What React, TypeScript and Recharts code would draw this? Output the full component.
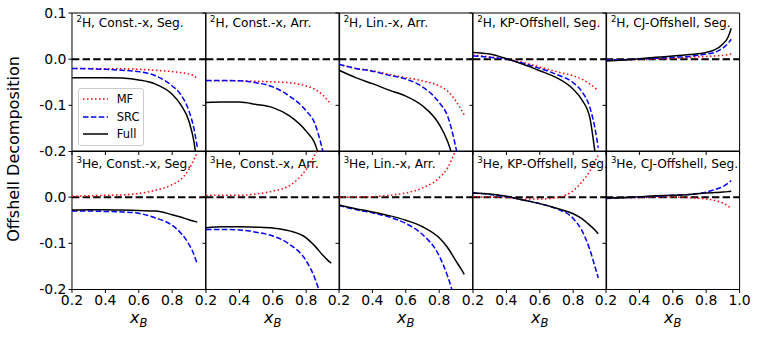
import { Legend, Line, LineChart, ReferenceArea, ReferenceLine, XAxis, YAxis } from 'recharts';

const FONT = '"DejaVu Sans", sans-serif';

// x_B grid shared by every curve
const X_B = [0.2, 0.3, 0.4, 0.5, 0.6, 0.7, 0.8, 0.85, 0.9, 0.93, 0.95];

const X_TICKS = [0.2, 0.4, 0.6, 0.8];
const X_TICKS_LAST = [0.2, 0.4, 0.6, 0.8, 1.0];
const Y_TICKS_TOP = [0.1, 0, -0.1, -0.2];
const Y_TICKS_BOTTOM = [0, -0.1, -0.2];
const SERIES_ORDER = ['MF', 'SRC', 'Full'];

// 2H panels
const H2_CONST_SEG_MF = [-0.02, -0.02, -0.021, -0.021, -0.022, -0.024, -0.027, -0.029, -0.032, -0.036, -0.042];
const H2_CONST_SEG_SRC = [-0.02, -0.021, -0.022, -0.024, -0.027, -0.036, -0.058, -0.076, -0.112, -0.15, -0.19];
const H2_CONST_SEG_FULL = [-0.04, -0.04, -0.04, -0.041, -0.045, -0.054, -0.076, -0.098, -0.134, -0.178, -0.23];

const H2_CONST_ARR_MF = [-0.047, -0.047, -0.047, -0.048, -0.049, -0.051, -0.058, -0.065, -0.078, -0.09, -0.098];
const H2_CONST_ARR_SRC = [-0.046, -0.046, -0.047, -0.051, -0.06, -0.08, -0.112, -0.138, -0.2, -0.25, -0.28];
const H2_CONST_ARR_FULL = [-0.094, -0.093, -0.093, -0.098, -0.105, -0.123, -0.156, -0.181, -0.24, -0.28, -0.32];

const H2_LIN_ARR_MF = [-0.011, -0.02, -0.025, -0.033, -0.04, -0.047, -0.058, -0.069, -0.091, -0.108, -0.121];
const H2_LIN_ARR_SRC = [-0.011, -0.02, -0.026, -0.035, -0.043, -0.06, -0.094, -0.123, -0.192, -0.25, -0.3];
const H2_LIN_ARR_FULL = [-0.024, -0.04, -0.053, -0.067, -0.08, -0.101, -0.141, -0.178, -0.24, -0.3, -0.34];

const H2_KP_SEG_MF = [0.009, 0.005, 0.0, -0.007, -0.017, -0.027, -0.036, -0.043, -0.054, -0.062, -0.069];
const H2_KP_SEG_SRC = [0.007, 0.004, 0.0, -0.009, -0.02, -0.033, -0.051, -0.069, -0.105, -0.149, -0.192];
const H2_KP_SEG_FULL = [0.0145, 0.011, 0.001, -0.011, -0.025, -0.04, -0.065, -0.087, -0.127, -0.2, -0.25];

const H2_CJ_SEG_MF = [-0.002, -0.002, -0.001, 0.0, 0.002, 0.004, 0.006, 0.007, 0.008, 0.01, 0.011];
const H2_CJ_SEG_SRC = [-0.002, -0.001, 0.0, 0.002, 0.004, 0.006, 0.011, 0.0145, 0.024, 0.034, 0.043];
const H2_CJ_SEG_FULL = [-0.004, -0.002, 0.001, 0.004, 0.007, 0.01, 0.0145, 0.02, 0.033, 0.047, 0.067];

// 3He panels
const HE3_CONST_SEG_MF = [0.002, 0.003, 0.004, 0.005, 0.008, 0.015, 0.027, 0.038, 0.06, 0.081, 0.096];
const HE3_CONST_SEG_SRC = [-0.03, -0.03, -0.031, -0.032, -0.035, -0.045, -0.061, -0.077, -0.102, -0.124, -0.145];
const HE3_CONST_SEG_FULL = [-0.028, -0.027, -0.027, -0.028, -0.029, -0.03, -0.038, -0.043, -0.049, -0.052, -0.054];

const HE3_CONST_ARR_MF = [0.004, 0.004, 0.004, 0.007, 0.013, 0.025, 0.06, 0.09, 0.13, 0.16, 0.18];
const HE3_CONST_ARR_SRC = [-0.07, -0.07, -0.071, -0.076, -0.084, -0.102, -0.138, -0.174, -0.23, -0.27, -0.3];
const HE3_CONST_ARR_FULL = [-0.066, -0.064, -0.064, -0.065, -0.067, -0.073, -0.088, -0.105, -0.126, -0.137, -0.143];

const HE3_LIN_ARR_MF = [0.0, 0.0, 0.001, 0.004, 0.009, 0.02, 0.042, 0.063, 0.103, 0.13, 0.15];
const HE3_LIN_ARR_SRC = [-0.018, -0.027, -0.034, -0.043, -0.057, -0.081, -0.127, -0.171, -0.23, -0.27, -0.3];
const HE3_LIN_ARR_FULL = [-0.017, -0.025, -0.032, -0.04, -0.05, -0.064, -0.088, -0.109, -0.138, -0.155, -0.167];

const HE3_KP_SEG_MF = [0.001, 0.0, -0.001, -0.004, -0.004, -0.001, 0.014, 0.032, 0.057, 0.078, 0.09];
const HE3_KP_SEG_SRC = [0.009, 0.006, 0.001, -0.006, -0.014, -0.025, -0.046, -0.071, -0.114, -0.15, -0.175];
const HE3_KP_SEG_FULL = [0.009, 0.007, 0.002, -0.006, -0.014, -0.024, -0.036, -0.046, -0.061, -0.071, -0.079];

const HE3_CJ_SEG_MF = [-0.002, -0.001, -0.001, 0.0, 0.0, -0.001, -0.004, -0.007, -0.013, -0.019, -0.025];
const HE3_CJ_SEG_SRC = [-0.003, -0.001, 0.0, 0.002, 0.004, 0.006, 0.011, 0.016, 0.023, 0.03, 0.036];
const HE3_CJ_SEG_FULL = [-0.002, -0.001, 0.001, 0.003, 0.004, 0.006, 0.009, 0.01, 0.011, 0.012, 0.013];

interface PanelDef {
  mass: string;
  nucleus: string;
  label: string;
  mf: number[];
  src: number[];
  full: number[];
}

const PANELS: PanelDef[][] = [
  [
    { mass: '2', nucleus: 'H', label: 'Const.-x, Seg.', mf: H2_CONST_SEG_MF, src: H2_CONST_SEG_SRC, full: H2_CONST_SEG_FULL },
    { mass: '2', nucleus: 'H', label: 'Const.-x, Arr.', mf: H2_CONST_ARR_MF, src: H2_CONST_ARR_SRC, full: H2_CONST_ARR_FULL },
    { mass: '2', nucleus: 'H', label: 'Lin.-x, Arr.', mf: H2_LIN_ARR_MF, src: H2_LIN_ARR_SRC, full: H2_LIN_ARR_FULL },
    { mass: '2', nucleus: 'H', label: 'KP-Offshell, Seg.', mf: H2_KP_SEG_MF, src: H2_KP_SEG_SRC, full: H2_KP_SEG_FULL },
    { mass: '2', nucleus: 'H', label: 'CJ-Offshell, Seg.', mf: H2_CJ_SEG_MF, src: H2_CJ_SEG_SRC, full: H2_CJ_SEG_FULL },
  ],
  [
    { mass: '3', nucleus: 'He', label: 'Const.-x, Seg.', mf: HE3_CONST_SEG_MF, src: HE3_CONST_SEG_SRC, full: HE3_CONST_SEG_FULL },
    { mass: '3', nucleus: 'He', label: 'Const.-x, Arr.', mf: HE3_CONST_ARR_MF, src: HE3_CONST_ARR_SRC, full: HE3_CONST_ARR_FULL },
    { mass: '3', nucleus: 'He', label: 'Lin.-x, Arr.', mf: HE3_LIN_ARR_MF, src: HE3_LIN_ARR_SRC, full: HE3_LIN_ARR_FULL },
    { mass: '3', nucleus: 'He', label: 'KP-Offshell, Seg.', mf: HE3_KP_SEG_MF, src: HE3_KP_SEG_SRC, full: HE3_KP_SEG_FULL },
    { mass: '3', nucleus: 'He', label: 'CJ-Offshell, Seg.', mf: HE3_CJ_SEG_MF, src: HE3_CJ_SEG_SRC, full: HE3_CJ_SEG_FULL },
  ],
];

const PANEL_X = [72, 205.6, 339.2, 472.8, 606.4];
const PANEL_Y = [12.5, 151];
const TITLE_BASELINE = [26.5, 167.5];
const PANEL_W = 133.6;
const PANEL_H = 138.5;
const M_TOP = 12;
const M_RIGHT = 20;
const AXIS_W = 72;
const AXIS_H = 48;

const fmt = (v: number) => v.toFixed(1);
const blank = () => '';

function XLabel(props: any) {
  const { x, y, width } = props.viewBox;
  return (
    <text x={x + width / 2} y={y + 34} textAnchor="middle" fontFamily={FONT} fontSize={16} fill="#000">
      <tspan fontStyle="italic">x</tspan>
      <tspan fontStyle="italic" fontSize={11.5} dy={3.5}>B</tspan>
    </text>
  );
}

function LegendBox(props: any) {
  const payload = [...(props.payload || [])].sort(
    (a: any, b: any) => SERIES_ORDER.indexOf(a.value) - SERIES_ORDER.indexOf(b.value),
  );
  return (
    <div
      style={{
        position: 'relative',
        width: 66,
        height: 58,
        boxSizing: 'border-box',
        border: '1px solid #cccccc',
        borderRadius: 3,
        background: 'rgba(255,255,255,0.8)',
        fontFamily: FONT,
        fontSize: 11.5,
      }}
    >
      {payload.map((entry: any, i: number) => (
        <div key={entry.value} style={{ position: 'absolute', left: 0, top: 3 + i * 17.5, height: 14, width: 64 }}>
          <svg width={30} height={14} style={{ position: 'absolute', left: 3, top: 0 }}>
            <line
              x1={1}
              x2={26}
              y1={7}
              y2={7}
              stroke={entry.color}
              strokeWidth={1.5}
              strokeDasharray={entry.payload?.strokeDasharray}
            />
          </svg>
          <span style={{ position: 'absolute', left: 38, top: 0, lineHeight: '14px', color: '#000' }}>
            {entry.value}
          </span>
        </div>
      ))}
    </div>
  );
}

function Panel({ p, row, col }: { p: PanelDef; row: number; col: number }) {
  const data = X_B.map((x, i) => ({ x, mf: p.mf[i], src: p.src[i], full: p.full[i] }));
  const left = PANEL_X[col] - AXIS_W;
  const top = PANEL_Y[row] - M_TOP;
  return (
    <div style={{ position: 'absolute', left, top }}>
      <LineChart
        width={AXIS_W + PANEL_W + M_RIGHT}
        height={M_TOP + PANEL_H + AXIS_H}
        data={data}
        margin={{ top: M_TOP, right: M_RIGHT, left: 0, bottom: 0 }}
      >
        <XAxis
          type="number"
          dataKey="x"
          domain={[0.2, 1]}
          allowDataOverflow
          ticks={col === 4 ? X_TICKS_LAST : X_TICKS}
          interval={0}
          height={AXIS_H}
          axisLine={false}
          tickSize={3.5}
          tickMargin={2}
          tickLine={{ stroke: '#000' }}
          tick={{ fill: '#000', fontSize: 14, fontFamily: FONT }}
          tickFormatter={row === 1 ? fmt : blank}
          label={row === 1 ? (lp: any) => <XLabel {...lp} /> : undefined}
        />
        <YAxis
          type="number"
          domain={[-0.2, 0.1]}
          allowDataOverflow
          ticks={row === 0 ? Y_TICKS_TOP : Y_TICKS_BOTTOM}
          interval={0}
          width={AXIS_W}
          axisLine={false}
          tickSize={3.5}
          tickMargin={2}
          tickLine={{ stroke: '#000' }}
          tick={{ fill: '#000', fontSize: 14, fontFamily: FONT }}
          tickFormatter={col === 0 ? fmt : blank}
        />
        <ReferenceLine y={0} stroke="#000" strokeWidth={2} strokeDasharray="7.4 3.2" />
        <Line
          type="monotone"
          dataKey="mf"
          name="MF"
          stroke="#ff0000"
          strokeWidth={1.5}
          strokeDasharray="1.5 2.5"
          dot={false}
          isAnimationActive={false}
        />
        <Line
          type="monotone"
          dataKey="src"
          name="SRC"
          stroke="#0000ff"
          strokeWidth={1.5}
          strokeDasharray="5.5 2.4"
          dot={false}
          isAnimationActive={false}
        />
        <Line
          type="monotone"
          dataKey="full"
          name="Full"
          stroke="#000000"
          strokeWidth={1.5}
          dot={false}
          isAnimationActive={false}
        />
        <ReferenceArea x1={0.2} x2={1} y1={-0.2} y2={0.1} fill="none" stroke="#000" strokeWidth={1} />
        {row === 0 && col === 0 && (
          <Legend
            layout="horizontal"
            verticalAlign="middle"
            align="center"
            content={(lp: any) => <LegendBox {...lp} />}
            wrapperStyle={{ left: 77.7, top: 87.5, width: 66, height: 58 }}
          />
        )}
      </LineChart>
    </div>
  );
}

export default function App() {
  return (
    <div style={{ position: 'absolute', left: 0, top: 0, width: 759, height: 337, background: '#fff' }}>
      {PANELS.map((rowPanels, row) =>
        rowPanels.map((p, col) => <Panel key={`${row}-${col}`} p={p} row={row} col={col} />),
      )}
      <svg width={759} height={337} style={{ position: 'absolute', left: 0, top: 0, pointerEvents: 'none' }}>
        {PANELS.map((rowPanels, row) =>
          rowPanels.map((p, col) => (
            <text
              key={`t-${row}-${col}`}
              x={PANEL_X[col] + 4.5}
              y={TITLE_BASELINE[row]}
              fontFamily={FONT}
              fontSize={12.2}
              fill="#000"
            >
              <tspan fontSize={8.5} dy={-5}>{p.mass}</tspan>
              <tspan dy={5}>{`${p.nucleus}, ${p.label}`}</tspan>
            </text>
          )),
        )}
        <text
          x={0}
          y={0}
          transform="translate(19, 149) rotate(-90)"
          textAnchor="middle"
          fontFamily={FONT}
          fontSize={16}
          fill="#000"
        >
          Offshell Decomposition
        </text>
      </svg>
    </div>
  );
}
